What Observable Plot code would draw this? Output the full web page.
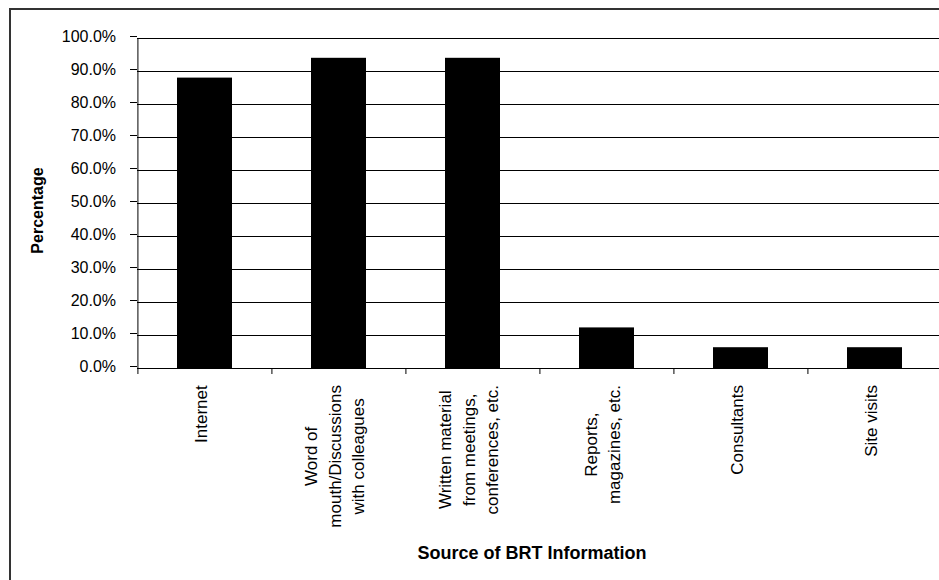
<!DOCTYPE html>
<html>
<head>
<meta charset="utf-8">
<script src="https://cdn.jsdelivr.net/npm/d3@7"></script>
<script src="https://cdn.jsdelivr.net/npm/@observablehq/plot@0.6"></script>
<style>
  html, body { margin: 0; padding: 0; background: #fff; overflow: hidden; }
  #wrap { position: relative; width: 939px; height: 580px; overflow: hidden; }
  #border { position: absolute; left: 9px; top: 8px; width: 2000px; height: 2000px;
            border-left: 2px solid #333; border-top: 2px solid #333; pointer-events: none; }
  #chart { position: absolute; left: 0; top: 0; }
</style>
</head>
<body>
<div id="wrap"><div id="chart"></div><div id="border"></div></div>
<script>
// Sources of BRT information and share of respondents citing each
const sources = [
  "Internet",
  "Word of\nmouth/Discussions\nwith colleagues",
  "Written material\nfrom meetings,\nconferences, etc.",
  "Reports,\nmagazines, etc.",
  "Consultants",
  "Site visits"
];
const percentages = [88.0, 94.0, 94.0, 12.3, 6.3, 6.3];
const yTicks = [0, 10, 20, 30, 40, 50, 60, 70, 80, 90, 100];
const yTitle = "Percentage";
const xTitle = "Source of BRT Information";

const rows = sources.map((s, i) => ({source: s, pct: percentages[i]}));

const W = 939, H = 580;
const margin = {top: 38, right: -3, bottom: 212, left: 137};
const step = (W - margin.left - margin.right) / sources.length;
const font = "Arial, 'Liberation Sans', sans-serif";

const chart = Plot.plot({
  width: W,
  height: H,
  marginTop: margin.top,
  marginRight: margin.right,
  marginBottom: margin.bottom,
  marginLeft: margin.left,
  style: {fontFamily: font, fontSize: "16px", color: "black", background: "transparent", overflow: "visible"},
  x: {domain: sources, paddingInner: 0.59, paddingOuter: 0.295, axis: null},
  y: {domain: [0, 100], axis: null},
  marks: [
    Plot.gridY(yTicks, {stroke: "black", strokeOpacity: 1}),
    Plot.barY(rows, {x: "source", y: "pct", fill: "black"}),
    Plot.ruleY([0], {stroke: "black"}),
    Plot.ruleX([sources[0]], {x: d => d, dx: -step / 2, stroke: "black"}),
    Plot.axisY({
      ticks: yTicks,
      tickSize: 7,
      tickPadding: 14.5,
      tickFormat: d => d.toFixed(1) + "%",
      fontSize: 16,
      dy: -2,
      label: null
    }),
    Plot.axisX({
      tickSize: 6,
      tickFormat: () => "",
      dx: -step / 2,
      label: null
    }),
    Plot.axisX({
      tickSize: 0,
      tickRotate: -90,
      textAnchor: "middle",
      lineAnchor: "middle",
      lineHeight: 1.38,
      fontSize: 17,
      dx: -6,
      label: null
    }),
    Plot.text([yTitle], {
      frameAnchor: "left",
      textAnchor: "middle",
      rotate: -90,
      dx: -100,
      dy: 7,
      fontWeight: "bold",
      fontSize: 16
    }),
    Plot.text([xTitle], {
      frameAnchor: "bottom",
      dx: -8,
      dy: 190.5,
      fontWeight: "bold",
      fontSize: 18
    })
  ]
});

document.getElementById("chart").appendChild(chart);

// Align the rotated category labels so the longest line of each starts just below the axis
const labelTop = 385;
chart.querySelectorAll('g[aria-label="x-axis tick label"] text').forEach(t => {
  const r = t.getBoundingClientRect();
  const shift = labelTop - r.top;
  t.setAttribute("transform", `translate(0,${shift}) ` + (t.getAttribute("transform") || ""));
});
</script>
</body>
</html>
